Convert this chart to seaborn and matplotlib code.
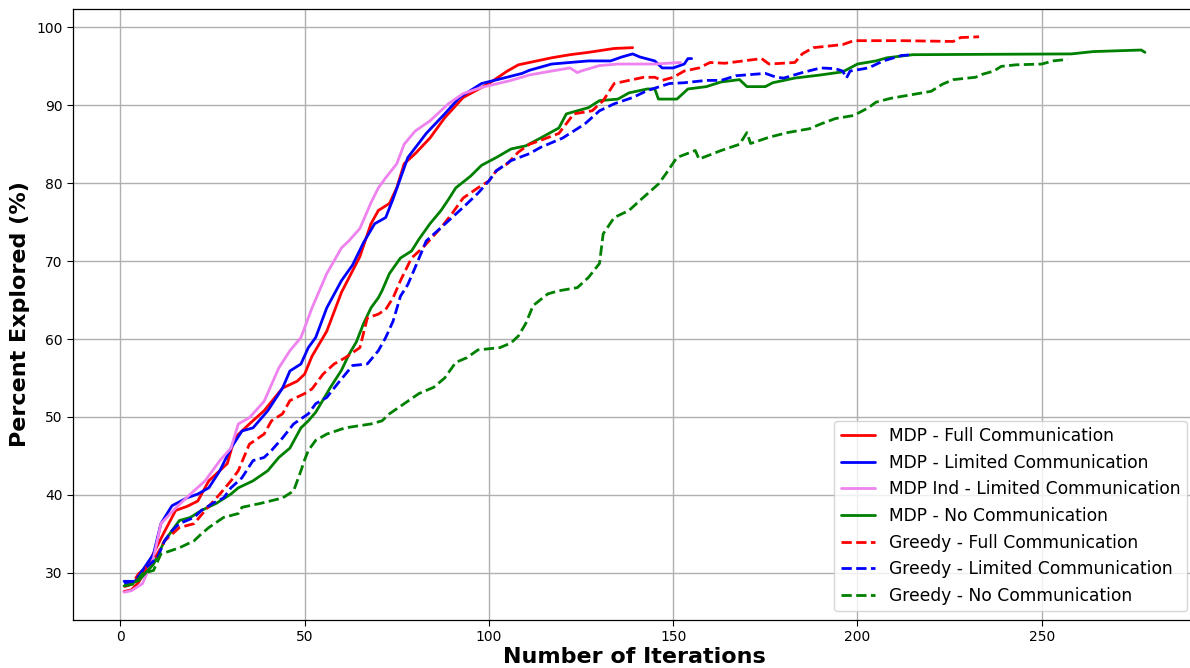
import matplotlib
matplotlib.use("Agg")
import matplotlib.pyplot as plt
import seaborn as sns
import pandas as pd

# ---- data ----
mdp_full_x = [1, 3, 5, 7, 9, 12, 15, 18, 21, 24, 29, 31, 35, 39, 44, 48, 50, 52, 56, 60, 65, 68, 70, 73, 75, 77, 80, 84, 88, 93, 100, 105, 108, 117, 122, 127, 134, 139]
mdp_full_y = [27.6, 27.8, 28.8, 30.5, 32.5, 35.3, 38.0, 38.5, 39.2, 41.8, 44.0, 47.3, 49.1, 50.8, 53.7, 54.6, 55.5, 57.8, 61.0, 66.0, 70.6, 74.8, 76.5, 77.4, 79.4, 82.5, 83.8, 85.8, 88.4, 91.0, 92.8, 94.4, 95.2, 96.1, 96.5, 96.8, 97.3, 97.4]

mdp_lim_x = [1, 4, 6, 9, 11, 14, 18, 21, 24, 27, 30, 33, 36, 40, 44, 46, 49, 51, 53, 56, 60, 63, 66, 69, 72, 74, 78, 83, 88, 92, 98, 104, 109, 111, 117, 127, 133, 136, 139, 141, 145, 147, 150, 153, 154, 155]
mdp_lim_y = [28.9, 28.9, 30.3, 32.4, 36.3, 38.6, 39.6, 40.1, 40.9, 43.1, 46.0, 48.2, 48.6, 50.8, 53.7, 55.9, 56.8, 58.9, 60.2, 64.0, 67.5, 69.5, 72.4, 74.8, 75.6, 78.0, 83.3, 86.4, 88.9, 91.0, 92.8, 93.5, 94.1, 94.5, 95.3, 95.7, 95.7, 96.2, 96.6, 96.2, 95.7, 94.8, 94.8, 95.3, 96.0, 96.0]

mdp_ind_x = [1, 3, 6, 9, 11, 15, 19, 23, 27, 30, 32, 35, 39, 43, 46, 49, 52, 56, 60, 62, 65, 68, 70, 72, 75, 77, 80, 84, 89, 93, 98, 106, 111, 117, 122, 124, 125, 130, 135, 145, 152]
mdp_ind_y = [27.5, 27.7, 28.6, 31.9, 36.3, 38.3, 40.1, 41.8, 44.4, 46.0, 49.1, 49.9, 52.0, 56.3, 58.5, 60.2, 64.0, 68.4, 71.7, 72.6, 74.2, 77.5, 79.4, 80.7, 82.5, 85.0, 86.7, 88.0, 90.2, 91.5, 92.3, 93.2, 93.9, 94.4, 94.8, 94.2, 94.4, 95.1, 95.3, 95.3, 95.5]

mdp_none_x = [1, 5, 9, 12, 16, 19, 22, 26, 30, 32, 36, 40, 43, 46, 49, 51, 53, 57, 60, 62, 64, 66, 68, 70, 71, 73, 76, 79, 81, 84, 87, 89, 91, 95, 98, 102, 106, 110, 114, 119, 121, 127, 130, 135, 138, 143, 145, 146, 151, 154, 159, 163, 168, 170, 175, 177, 183, 190, 196, 200, 205, 208, 215, 258, 264, 277, 278]
mdp_none_y = [28.3, 29.0, 31.1, 34.1, 36.7, 37.1, 38.0, 38.9, 40.1, 40.9, 41.8, 43.1, 44.8, 46.0, 48.6, 49.5, 50.6, 53.8, 56.0, 58.0, 59.6, 62.0, 64.0, 65.3, 66.2, 68.4, 70.4, 71.3, 72.8, 74.8, 76.5, 77.9, 79.4, 80.9, 82.3, 83.3, 84.4, 84.8, 85.8, 87.1, 88.9, 89.7, 90.6, 90.8, 91.6, 92.1, 92.1, 90.8, 90.8, 92.1, 92.4, 93.0, 93.3, 92.4, 92.4, 92.9, 93.5, 93.9, 94.3, 95.3, 95.7, 96.1, 96.5, 96.6, 96.9, 97.1, 96.8]

greedy_full_x = [1, 3, 5, 9, 12, 16, 20, 23, 27, 30, 32, 35, 39, 41, 44, 46, 50, 52, 55, 58, 61, 65, 67, 70, 72, 74, 76, 79, 82, 87, 90, 93, 97, 100, 102, 105, 108, 111, 114, 119, 123, 128, 131, 134, 138, 142, 145, 147, 150, 153, 157, 160, 164, 174, 176, 183, 185, 188, 196, 199, 212, 226, 228, 233]
greedy_full_y = [28.2, 28.5, 29.9, 31.5, 34.1, 35.8, 36.3, 38.0, 40.1, 41.8, 43.1, 46.5, 47.8, 49.5, 50.4, 52.1, 53.0, 53.6, 55.5, 56.8, 57.6, 58.9, 62.7, 63.2, 63.8, 65.3, 67.5, 70.4, 71.7, 74.3, 76.1, 78.1, 79.4, 80.3, 81.6, 82.5, 84.0, 85.0, 85.5, 86.4, 88.9, 89.3, 90.6, 92.8, 93.2, 93.6, 93.6, 93.2, 93.6, 94.4, 94.8, 95.5, 95.4, 96.0, 95.3, 95.5, 96.6, 97.4, 97.8, 98.3, 98.3, 98.2, 98.7, 98.8]

greedy_lim_x = [1, 4, 6, 10, 12, 14, 16, 20, 22, 25, 28, 30, 33, 36, 39, 41, 44, 47, 51, 53, 56, 59, 63, 67, 70, 72, 74, 76, 78, 80, 83, 87, 90, 93, 97, 100, 102, 106, 111, 114, 120, 126, 130, 134, 139, 143, 149, 153, 159, 163, 167, 175, 178, 180, 185, 190, 194, 196, 197, 198, 203, 207, 212, 215]
greedy_lim_y = [28.7, 28.9, 30.3, 31.9, 34.1, 35.4, 36.3, 37.1, 38.0, 38.9, 39.6, 40.9, 42.2, 44.4, 44.8, 45.7, 47.3, 49.1, 50.4, 51.7, 52.5, 54.3, 56.6, 56.8, 58.5, 60.2, 62.3, 65.5, 67.0, 69.2, 72.6, 74.3, 75.6, 76.9, 78.7, 80.3, 81.6, 82.9, 83.8, 84.6, 85.8, 87.6, 89.3, 90.2, 91.0, 91.9, 92.8, 92.9, 93.2, 93.2, 93.8, 94.1, 93.6, 93.5, 94.2, 94.8, 94.7, 94.4, 93.5, 94.4, 94.8, 95.7, 96.4, 96.5]

greedy_none_x = [1, 4, 6, 9, 11, 16, 20, 22, 24, 28, 32, 33, 38, 44, 47, 49, 50, 51, 53, 56, 61, 68, 71, 73, 77, 81, 85, 88, 91, 94, 97, 103, 106, 108, 110, 112, 116, 119, 124, 127, 130, 131, 134, 138, 141, 146, 148, 151, 156, 157, 163, 168, 170, 171, 176, 181, 187, 190, 194, 199, 203, 205, 209, 220, 223, 226, 232, 234, 237, 239, 243, 250, 253, 257]
greedy_none_y = [28.3, 28.6, 29.9, 30.3, 32.4, 33.2, 34.1, 35.0, 35.8, 37.1, 37.6, 38.4, 38.9, 39.6, 40.5, 43.1, 44.5, 45.7, 47.0, 47.8, 48.6, 49.1, 49.5, 50.4, 51.7, 53.0, 53.8, 55.0, 57.0, 57.6, 58.6, 58.9, 59.5, 60.4, 62.0, 64.3, 65.8, 66.2, 66.6, 67.9, 69.7, 73.5, 75.6, 76.5, 77.8, 79.9, 81.2, 83.3, 84.2, 83.1, 84.2, 85.0, 86.5, 85.1, 85.9, 86.5, 87.0, 87.6, 88.3, 88.7, 89.7, 90.4, 90.9, 91.8, 92.7, 93.3, 93.6, 94.0, 94.4, 95.0, 95.2, 95.3, 95.7, 95.9]

series_labels = ["MDP - Full Communication", "MDP - Limited Communication",
                 "MDP Ind - Limited Communication", "MDP - No Communication",
                 "Greedy - Full Communication", "Greedy - Limited Communication",
                 "Greedy - No Communication"]
series_x = [mdp_full_x, mdp_lim_x, mdp_ind_x, mdp_none_x, greedy_full_x, greedy_lim_x, greedy_none_x]
series_y = [mdp_full_y, mdp_lim_y, mdp_ind_y, mdp_none_y, greedy_full_y, greedy_lim_y, greedy_none_y]
series_colors = ["red", "blue", "violet", "green", "red", "blue", "green"]
series_styles = ["-", "-", "-", "-", "--", "--", "--"]

sns.set_style("ticks")
plt.rcParams['font.family'] = ['DejaVu Sans']
plt.rcParams['text.color'] = 'black'
plt.rcParams['axes.labelcolor'] = 'black'

fig = plt.figure(figsize=(11.9, 6.68), dpi=100)
# the reference figure is cropped on the right: the axes run slightly past the edge
ax = fig.add_axes([73/1190, 1 - 620/668, (1196 - 73)/1190, (620 - 9)/668])

for lab, xs, ys, c, ls in zip(series_labels, series_x, series_y, series_colors, series_styles):
    df = pd.DataFrame({"x": xs, "y": ys})
    sns.lineplot(data=df, x="x", y="y", ax=ax, color=c, linestyle=ls,
                 linewidth=2.0, label=lab, estimator=None, sort=False)

ax.set_xticks([0, 50, 100, 150, 200, 250])
ax.set_yticks([30, 40, 50, 60, 70, 80, 90, 100])
ax.tick_params(labelsize=10, colors="black", length=4)
ax.grid(True, color="#b0b0b0", linewidth=1.0)
for s in ax.spines.values():
    s.set_color("black")
    s.set_linewidth(0.9)
ax.set_xlabel("Number of Iterations", fontsize=16, fontweight="bold", color="black")
ax.set_ylabel("Percent Explored (%)", fontsize=16, fontweight="bold", color="black")
ax.xaxis.set_label_coords(0.5, -0.045)
ax.yaxis.set_label_coords(-0.038, 0.5)
ax.margins(x=0.05, y=0.05)

leg = ax.legend(loc="lower right", fontsize=12.3, frameon=True, handlelength=2.0)
leg.get_frame().set_edgecolor("#cccccc")
for t in leg.get_texts():
    t.set_color("black")

fig.savefig("out.png", dpi=100)
